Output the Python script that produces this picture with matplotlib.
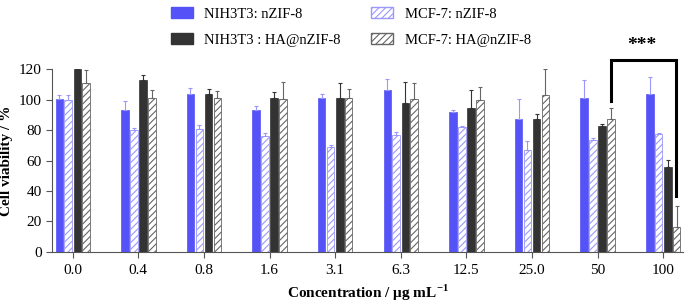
import matplotlib
matplotlib.use('Agg')
import matplotlib.pyplot as plt
import numpy as np
from matplotlib.patches import Patch

plt.rcParams['font.family'] = ['Liberation Serif', 'DejaVu Serif']
plt.rcParams['mathtext.fontset'] = 'custom'
plt.rcParams['mathtext.rm'] = 'Liberation Serif'
plt.rcParams['mathtext.bf'] = 'Liberation Serif:bold'
plt.rcParams['hatch.linewidth'] = 0.8

conc = ['0.0', '0.4', '0.8', '1.6', '3.1', '6.3', '12.5', '25.0', '50', '100']

nih_zif = [100.2, 93.6, 103.8, 93.2, 101.1, 106.6, 92.1, 87.2, 101.5, 103.8]
nih_zif_err = [3.1, 5.7, 3.9, 2.8, 2.9, 6.9, 1.5, 13.0, 11.3, 11.4]
mcf_zif = [100.0, 79.9, 81.0, 76.4, 68.9, 76.8, 82.3, 67.1, 73.3, 77.5]
mcf_zif_err = [3.0, 1.3, 2.2, 1.7, 1.1, 2.0, 0.5, 5.7, 1.3, 0.6]
nih_ha = [120.0, 113.2, 103.8, 101.5, 101.1, 98.2, 94.5, 87.2, 82.8, 55.8]
nih_ha_err = [0.0, 2.9, 3.5, 3.8, 10.2, 13.7, 12.1, 3.5, 1.3, 4.5]
mcf_ha = [111.3, 101.3, 101.3, 100.7, 101.3, 100.4, 100.0, 103.3, 87.4, 16.3]
mcf_ha_err = [8.3, 5.3, 4.7, 11.2, 6.0, 10.9, 8.6, 17.2, 7.5, 13.5]

blue = '#5553f7'
lblue = '#9a98fb'
dark = '#333333'
gray = '#666666'

fig = plt.figure(figsize=(6.85, 3.03), dpi=100)
ax = fig.add_axes([0.0759, 0.169, 0.921, 0.602])

x = np.arange(len(conc))
w = 0.115
ekw = dict(capsize=1.5, elinewidth=0.8, capthick=0.8)

def lower_zero(e):
    return [np.zeros(len(e)), e]

ax.bar(x - 0.205, nih_zif, w, color=blue, edgecolor=blue, linewidth=0.5,
       yerr=lower_zero(nih_zif_err), ecolor=lblue, error_kw=ekw)
ax.bar(x - 0.07, mcf_zif, w, color='white', edgecolor=lblue, hatch='/////', linewidth=0.6,
       yerr=lower_zero(mcf_zif_err), ecolor=lblue, error_kw=ekw)
ax.bar(x + 0.07, nih_ha, w, color=dark, edgecolor=dark, linewidth=0.5,
       yerr=lower_zero(nih_ha_err), ecolor=dark, error_kw=ekw)
ax.bar(x + 0.205, mcf_ha, w, color='white', edgecolor=gray, hatch='/////', linewidth=0.6,
       yerr=lower_zero(mcf_ha_err), ecolor=gray, error_kw=ekw)

ax.set_xlim(-0.316, 9.3)
ax.set_ylim(0, 120)
ax.set_yticks(np.arange(0, 121, 20))
ax.set_xticks(x)
ax.set_xticklabels(conc)
ax.spines['top'].set_visible(False)
ax.spines['right'].set_visible(False)
for s in ['left', 'bottom']:
    ax.spines[s].set_color('#555555')
    ax.spines[s].set_linewidth(0.8)
ax.tick_params(colors='#555555', labelcolor='black', labelsize=11, length=4, width=0.8)
ax.tick_params(axis='x', pad=5)

ax.set_ylabel('Cell viability / %', fontsize=11, fontweight='bold', labelpad=4)
ax.set_xlabel('Concentration / \u03bcg mL$^{\\mathbf{-1}}$', fontsize=11, fontweight='bold', labelpad=4)

# significance bracket
bx = [8.205, 8.205, 9.197, 9.197]
by = [99.3, 126.4, 126.4, 36.4]
ax.plot(bx, by, color='black', lw=2.2, clip_on=False, solid_joinstyle='miter')
ax.text(8.68, 130, '***', ha='center', va='bottom', fontsize=14, fontweight='bold', clip_on=False)

handles = [
    Patch(facecolor=blue, edgecolor=blue, label='NIH3T3: nZIF-8'),
    Patch(facecolor=dark, edgecolor=dark, label='NIH3T3 : HA@nZIF-8'),
    Patch(facecolor='white', edgecolor=lblue, hatch='/////', label='MCF-7: nZIF-8'),
    Patch(facecolor='white', edgecolor=gray, hatch='/////', label='MCF-7: HA@nZIF-8'),
]
fig.legend(handles=handles, ncol=2, loc='upper left', bbox_to_anchor=(0.23, 1.02),
           frameon=False, fontsize=10.5, handlelength=1.5, handleheight=0.8,
           columnspacing=2.1, labelspacing=0.85, handletextpad=0.8)

fig.savefig('out.png', dpi=100)
